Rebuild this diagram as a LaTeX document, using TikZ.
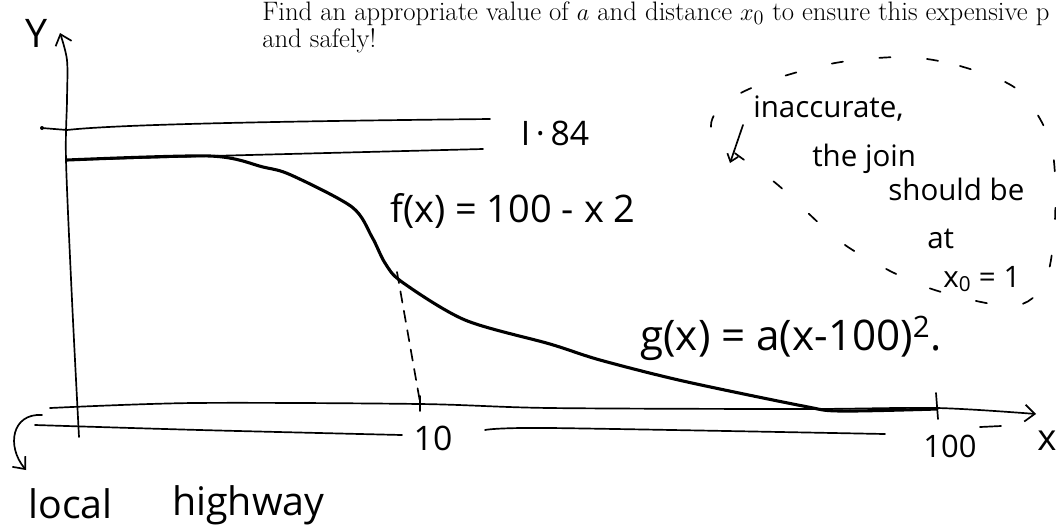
\documentclass[tikz,border=0pt]{standalone}
\usepackage{fontspec}
\newfontfamily\handfont{Open Sans}
\usetikzlibrary{arrows.meta}
\tikzset{
  hand/.style={font=\handfont\fontsize{#1}{#1}\selectfont, inner sep=0pt},
  print/.style={font=\fontsize{19}{20}\selectfont, inner sep=0pt, anchor=base west},
  road/.style={line width=1.2pt},
  barb/.style={-{Straight Barb[length=7pt,width=12pt,line width=1.2pt]}},
}
\begin{document}
\begin{tikzpicture}[x=0.025cm,y=-0.025cm,line cap=round,line join=round]
 \useasboundingbox (0,0) rectangle (1056,529);
 % printed question
 \node[print] (task) at (262,20) {Find an appropriate value of $a$ and distance $x_0$ to ensure this expensive p};
 \node[print] (task2) at (262,47) {and safely!};

 % axes
 \path[coordinate] (79,437) coordinate(ybot)
                   (60,33)  coordinate(ytop)
                   (50,408) coordinate(xbeg)
                   (1036,414) coordinate(xend);
 \draw[road,barb] plot[smooth] coordinates {(ybot) (72,300) (66,160) (67,100) (67,60) (ytop)};
 \node[hand=28] (ylab) at (37,33) {Y};
 \draw[road,barb] plot[smooth] coordinates {(xbeg) (193,403) (420,404) (550,408) (803,409) (937,408) (xend)};
 \node[hand=26] (xlab) at (1047,441) {x};

 % I-84
 \fill (42,128) circle (2);
 \draw[road] (42,128) -- (67,130) .. controls (120,124) and (300,121) .. (490,119);
 \draw[road] (67,160) -- (210,156) -- (483,149);
 \node[hand=24] (i84) at (555,133) {I\,·\,84};

 % local highway
 \draw[road] plot[smooth] coordinates {(35,425) (200,430) (402,435)};
 \draw[road] plot[smooth] coordinates {(485,430) (550,428) (885,434)};
 \path[coordinate] (42,415) coordinate(hwy);
 \draw[road,barb] (hwy) .. controls (12,413) and (6,446) .. (26,470);
 \node[hand=28,anchor=base west] (local) at (28,518) {local};
 \node[hand=28,anchor=base west] (highway) at (172,515) {highway};

 % ticks
 \draw[road] (420,396) -- (420,411);
 \draw[road] (936,393) -- (938,419);
 \node[hand=24] (ten) at (433,438) {10};
 \node[hand=22] (hundred) at (950,446) {100};
 \draw[road] (980,427) -- (1001,426);

 % the curves
 \draw[line width=2.2pt] plot[smooth] coordinates {(67,160) (210,156) (263,167) (291,175) (352,207)
   (372,237) (385,263) (402,282) (465,320) (550,344) (600,360) (683,381) (803,406) (840,411) (937,409)};
 \draw[road,dash pattern=on 8pt off 6pt] (397,272) -- (420,402);
 \node[hand=27,anchor=base west] (f) at (390,222) {f(x) = 100 - x 2};
 \node[hand=30,anchor=base west] (g) at (640,350) {g(x) = a(x-100)\textsuperscript{2}.};

 % remark
 \begin{scope}[hand=21]
  \node[anchor=base west] (n1) at (753,117) {inaccurate,};
  \node[anchor=base west] (n2) at (812,166) {the join};
  \node[anchor=base west] (n3) at (888,200) {should be};
  \node[anchor=base west] (n4) at (927,248) {at};
  \node[anchor=base west] (n5) at (943,287) {x\textsubscript{0} = 1};
 \end{scope}
 \path[coordinate] (743,125) coordinate(tail) (730,163) coordinate(head);
 \draw[road,-{Straight Barb[length=5pt,width=8pt]}] (tail) -- (head);
 \draw[road,dash pattern=on 8pt off 26pt] plot[smooth cycle] coordinates {(905,57) (960,66) (1018,90)
   (1051,144) (1055,220) (1045,282) (1012,306) (926,287) (845,245) (778,185) (714,135) (722,105) (766,82) (835,63)};
\end{tikzpicture}
\end{document}
